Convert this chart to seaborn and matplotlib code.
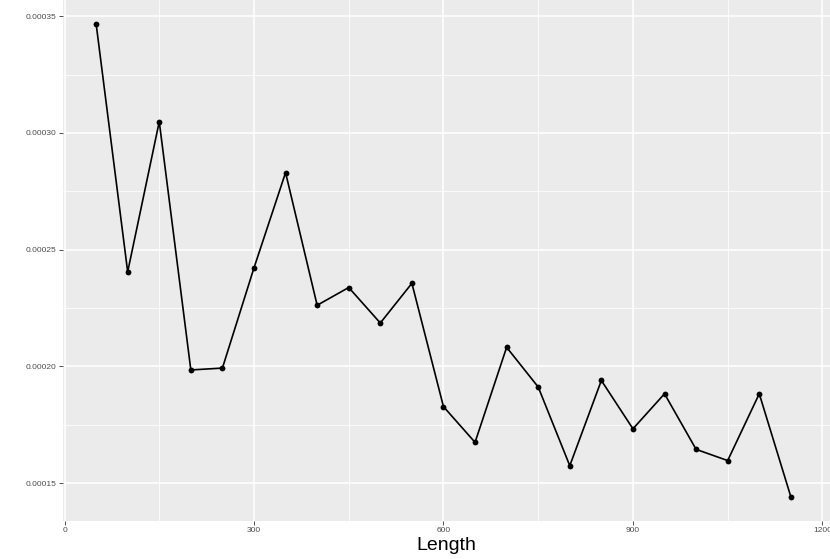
import matplotlib
matplotlib.use("Agg")
import matplotlib.pyplot as plt
import seaborn as sns
import pandas as pd
from matplotlib.ticker import MultipleLocator, FixedLocator

length = [50, 100, 150, 200, 250, 300, 350, 400, 450, 500, 550, 600,
          650, 700, 750, 800, 850, 900, 950, 1000, 1050, 1100, 1150]
value = [0.0003468, 0.0002405, 0.0003048, 0.0001985, 0.0001993, 0.0002422,
         0.0002830, 0.0002262, 0.0002338, 0.0002186, 0.0002356, 0.0001828,
         0.0001675, 0.0002082, 0.0001912, 0.0001575, 0.0001940, 0.0001733,
         0.0001883, 0.0001645, 0.0001597, 0.0001883, 0.0001442]
x_ticks = [0, 300, 600, 900, 1200]
y_ticks = [0.00015, 0.00020, 0.00025, 0.00030, 0.00035]
y_labels = ["0.00015", "0.00020", "0.00025", "0.00030", "0.00035"]

df = pd.DataFrame({"Length": length, "value": value})

sns.set_theme(style="darkgrid")
plt.rcParams['font.family'] = ['Liberation Sans', 'DejaVu Sans']

fig = plt.figure(figsize=(8.3, 5.59), dpi=100)
ax = fig.add_axes([63 / 830, (559 - 520.6) / 559, 1 - 63 / 830, 520.6 / 559])
ax.set_facecolor("#EBEBEB")

sns.lineplot(data=df, x="Length", y="value", ax=ax, color="black",
             linewidth=1.2, marker="o", markersize=4.2, markeredgewidth=0,
             zorder=3)

ax.set_xlim(-2.4, 1212)
ax.set_ylim(0.0001340, 0.0003569)
ax.xaxis.set_major_locator(FixedLocator(x_ticks))
ax.xaxis.set_minor_locator(FixedLocator([150, 450, 750, 1050]))
ax.yaxis.set_major_locator(FixedLocator(y_ticks))
ax.yaxis.set_minor_locator(FixedLocator([0.000175, 0.000225, 0.000275, 0.000325]))
ax.set_xticklabels([str(t) for t in x_ticks])
ax.set_yticklabels(y_labels)

ax.grid(which="major", color="white", linewidth=1.1)
ax.grid(which="minor", color="white", linewidth=0.55)
for s in ax.spines.values():
    s.set_visible(False)

ax.tick_params(axis="both", which="major", length=3, width=0.6, color="#333333",
               labelsize=6, labelcolor="#4D4D4D", pad=1.5,
               bottom=True, left=True)
ax.tick_params(axis="both", which="minor", length=0)

ax.set_xlabel("Length", fontsize=14, color="black", labelpad=2)
ax.set_ylabel("")

fig.savefig("out.png", dpi=100)
